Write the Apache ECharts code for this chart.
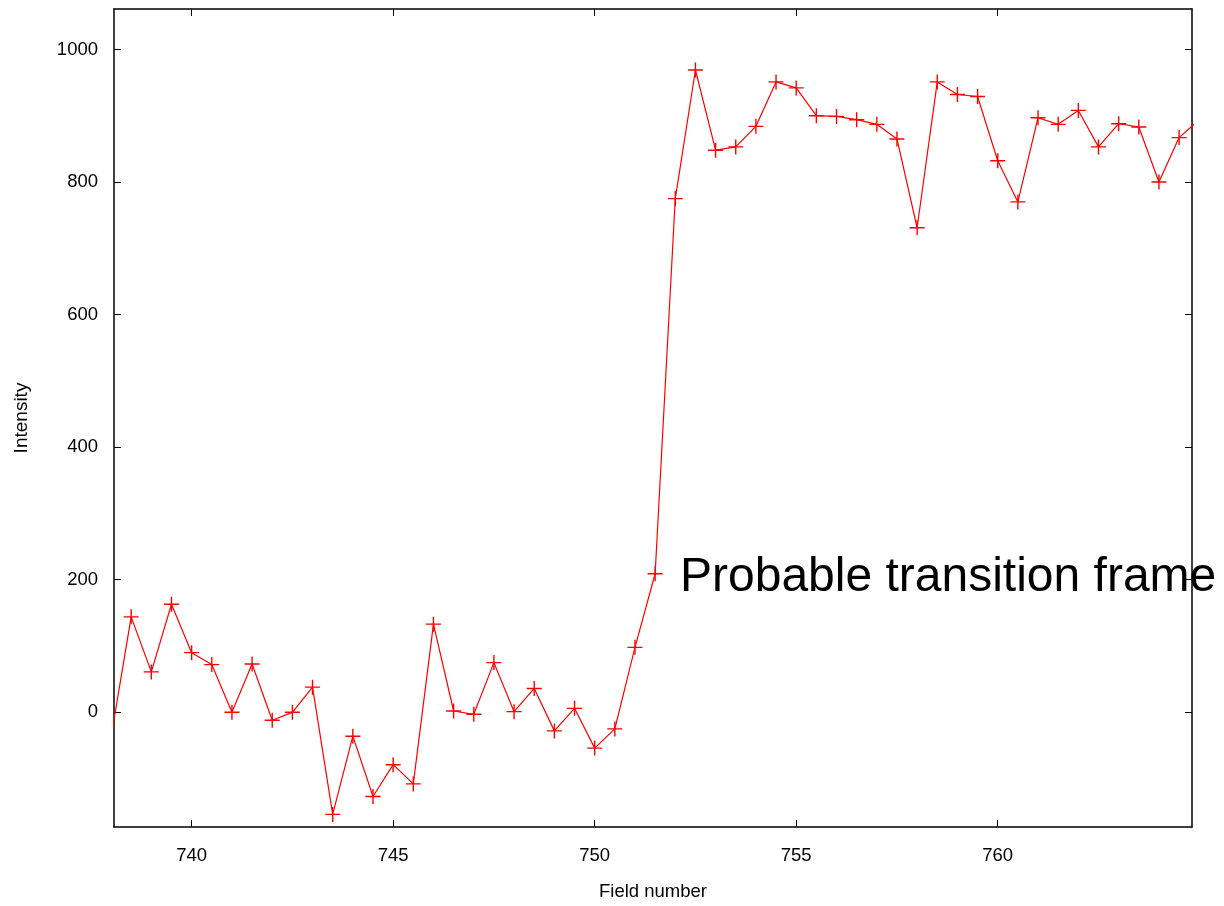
<!DOCTYPE html>
<html>
<head>
<meta charset="utf-8">
<style>
  html, body { margin: 0; padding: 0; background: #fff; }
  #chart { width: 1224px; height: 906px; }
</style>
<script src="https://cdn.jsdelivr.net/npm/echarts@6/dist/echarts.min.js"></script>
</head>
<body>
<div id="chart"></div>
<script>
// ---- data ----
const fields = [738, 738.5, 739, 739.5, 740, 740.5, 741, 741.5, 742, 742.5,
  743, 743.5, 744, 744.5, 745, 745.5, 746, 746.5, 747, 747.5,
  748, 748.5, 749, 749.5, 750, 750.5, 751, 751.5, 752, 752.5,
  753, 753.5, 754, 754.5, 755, 755.5, 756, 756.5, 757, 757.5,
  758, 758.5, 759, 759.5, 760, 760.5, 761, 761.5, 762, 762.5,
  763, 763.5, 764, 764.5, 765];
const intensity = [-38, 144, 61, 163, 90, 72, 0, 73, -12, 0,
  38, -154, -36, -127, -79, -108, 133, 2, -3, 75,
  1, 36, -28, 6, -54, -25, 98, 209, 775, 969,
  848, 853, 884, 951, 942, 900, 899, 894, 887, 865,
  731, 951, 932, 929, 832, 770, 897, 887, 908, 853,
  888, 883, 800, 867, 894];
const xTicks = [740, 745, 750, 755, 760];
const yTicks = [0, 200, 400, 600, 800, 1000];
const xTitle = 'Field number';
const yTitle = 'Intensity';
const annotation = 'Probable transition frame';

const xMin = 738.074, xMax = 764.82;
const yMin = -173, yMax = 1061;

const seriesData = fields.map((f, i) => [f, intensity[i]]);

const FONT = "'Liberation Sans', Arial, sans-serif";
const axisLineStyle = { color: '#000', width: 1.5 };

function xAx(pos, showLabels) {
  return {
    type: 'value', position: pos, min: xMin, max: xMax,
    axisLine: { show: true, onZero: false, lineStyle: axisLineStyle },
    axisTick: { show: true, inside: true, length: 7, customValues: xTicks, lineStyle: { color: '#000', width: 1 } },
    axisLabel: { show: showLabels, customValues: xTicks, fontSize: 18.5, fontFamily: FONT, color: '#000', margin: 19,
      formatter: v => String(v) },
    splitLine: { show: false },
    name: showLabels ? xTitle : '',
    nameLocation: 'middle', nameGap: 55,
    nameTextStyle: { fontSize: 18.5, fontFamily: FONT, color: '#000' }
  };
}
function yAx(pos, showLabels) {
  return {
    type: 'value', position: pos, min: yMin, max: yMax,
    axisLine: { show: true, onZero: false, lineStyle: axisLineStyle },
    axisTick: { show: true, inside: true, length: 7, customValues: yTicks, lineStyle: { color: '#000', width: 1 } },
    axisLabel: { show: showLabels, customValues: yTicks, fontSize: 18.5, fontFamily: FONT, color: '#000', margin: 16,
      formatter: v => String(v) },
    splitLine: { show: false },
    name: showLabels ? yTitle : '',
    nameLocation: 'middle', nameGap: 83,
    nameTextStyle: { fontSize: 19, fontFamily: FONT, color: '#000' }
  };
}

const chart = echarts.init(document.getElementById('chart'), null, { renderer: 'canvas' });
chart.setOption({
  animation: false,
  backgroundColor: '#fff',
  grid: { left: 114, right: 32, top: 9, bottom: 77, containLabel: false },
  xAxis: [xAx('bottom', true), xAx('top', false)],
  yAxis: [yAx('left', true), yAx('right', false)],
  series: [{
    type: 'line',
    xAxisIndex: 0, yAxisIndex: 0,
    data: seriesData,
    clip: true,
    symbol: 'path://M7.5,0L7.5,15M0,7.5L15,7.5',
    symbolSize: 15,
    showAllSymbol: true,
    lineStyle: { color: '#ff0000', width: 1.2 },
    itemStyle: { color: '#ff0000', borderColor: '#ff0000', borderWidth: 1.4 }
  }],
  graphic: [{
    type: 'text',
    x: 680, y: 578,
    style: {
      text: annotation,
      font: "48px 'Liberation Sans', Arial, sans-serif",
      fill: '#000',
      align: 'left',
      verticalAlign: 'middle'
    },
    z: 100
  }]
});
</script>
</body>
</html>
